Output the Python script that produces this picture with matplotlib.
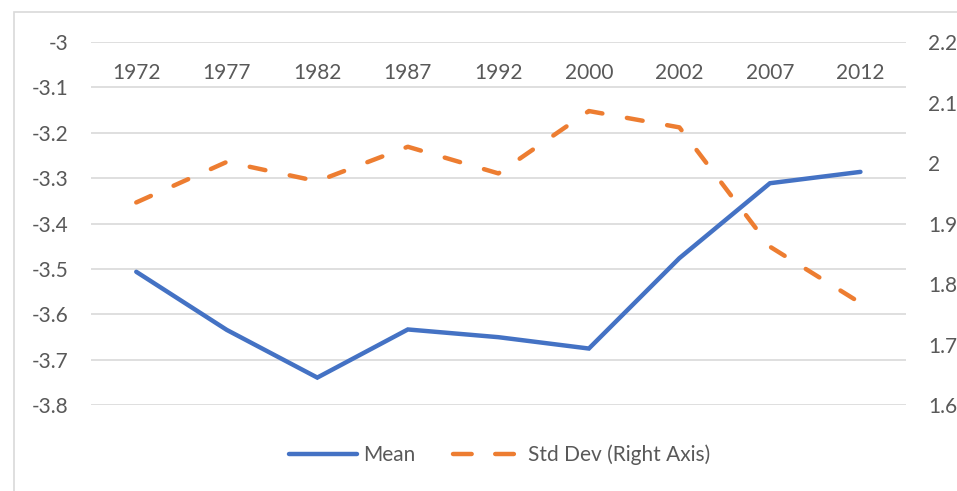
import matplotlib
matplotlib.use("Agg")
import matplotlib.pyplot as plt
from matplotlib.patches import Rectangle
from matplotlib.lines import Line2D

years = ["1972", "1977", "1982", "1987", "1992", "2000", "2002", "2007", "2012"]
mean_vals = [-3.506, -3.634, -3.739, -3.633, -3.650, -3.675, -3.476, -3.311, -3.286]
std_vals = [1.935, 2.002, 1.970, 2.027, 1.983, 2.086, 2.059, 1.862, 1.769]
left_ticks = [-3.8, -3.7, -3.6, -3.5, -3.4, -3.3, -3.2, -3.1, -3.0]
left_labels = ["-3.8", "-3.7", "-3.6", "-3.5", "-3.4", "-3.3", "-3.2", "-3.1", "-3"]
right_ticks = [1.6, 1.7, 1.8, 1.9, 2.0, 2.1, 2.2]
right_labels = ["1.6", "1.7", "1.8", "1.9", "2", "2.1", "2.2"]

plt.rcParams['font.family'] = ['Lato', 'DejaVu Sans']
txt = '#595959'
blue = '#4472C4'
orange = '#ED7D31'
fs = 15
dash = (3.6, 5.6)

fig = plt.figure(figsize=(9.57, 4.91), dpi=100)
fig.patches.append(Rectangle((14/957, -0.1), 1.2, 1 - 12/491 + 0.1, transform=fig.transFigure,
                             fill=False, edgecolor='#D9D9D9', linewidth=1.2))

ax = fig.add_axes([91/957, 1 - 405.3/491, (905.7 - 91)/957, (405.3 - 42)/491])
ax2 = ax.twinx()

x = list(range(len(years)))
ax.plot(x, mean_vals, color=blue, lw=3.2, solid_joinstyle='miter', solid_capstyle='round', zorder=3)
ax2.plot(x, std_vals, color=orange, lw=3.2, dashes=dash, dash_capstyle='round', zorder=3)

ax.set_xlim(-0.5, len(years) - 0.5)
ax.set_ylim(-3.8, -3.0)
ax2.set_ylim(1.6, 2.2)

ax.set_yticks(left_ticks)
ax.set_yticklabels(left_labels)
ax2.set_yticks(right_ticks)
ax2.set_yticklabels(right_labels)
ax.set_xticks([])
for a in (ax, ax2):
    for s in a.spines.values():
        s.set_visible(False)
    a.tick_params(axis='y', length=0, labelsize=fs, colors=txt, pad=16)
ax.grid(axis='y', color='#D9D9D9', lw=1.2)
ax.set_axisbelow(True)

for i, yr in enumerate(years):
    ax.annotate(yr, xy=(i, -3.0), xytext=(0, -22), textcoords='offset points',
                ha='center', va='center', fontsize=fs, color=txt)

handles = [Line2D([], [], color=blue, lw=3.2, solid_capstyle='round'),
           Line2D([], [], color=orange, lw=3.2, dashes=(4.2, 5.3), dash_capstyle='round')]
fig.legend(handles, ["Mean", "Std Dev (Right Axis)"], loc='center', bbox_to_anchor=(0.522, 1 - 455/491),
           ncol=2, frameon=False, fontsize=fs, labelcolor=txt, handlelength=3.3,
           handletextpad=0.3, columnspacing=1.8)

fig.savefig("out.png", dpi=100, facecolor='white')
